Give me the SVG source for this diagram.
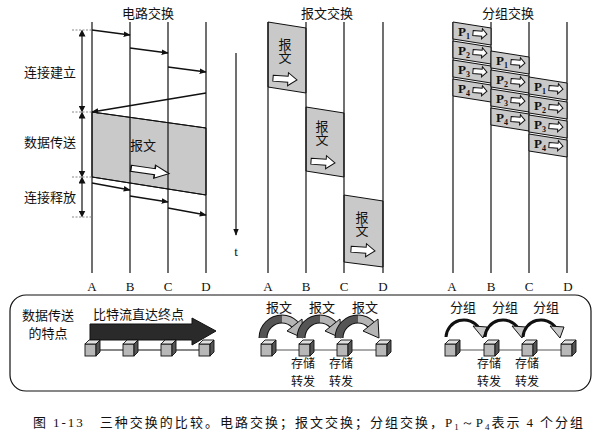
<svg xmlns="http://www.w3.org/2000/svg" width="614" height="435" viewBox="0 0 614 435">
<style>
.t{font-family:"Noto Sans CJK SC","Noto Sans",sans-serif;font-size:13px;fill:#111}
.s{font-size:12px}
.vt{font-family:"Noto Sans CJK SC","Noto Sans",sans-serif;font-size:13px;fill:#111;writing-mode:vertical-rl}
.l{font-family:"Liberation Serif",serif;font-size:13px;fill:#111}
.p{font-family:"Liberation Serif",serif;font-size:13px;font-weight:bold;fill:#111}
.ps{font-size:8px}
.v{stroke:#111;stroke-width:1.2;fill:none}
.a{stroke:#111;stroke-width:1.3;fill:none;marker-end:url(#ah)}
.g{fill:#c9c9c9;stroke:#111;stroke-width:1}
.w{fill:#fff;stroke:#111;stroke-width:1}
.d{stroke:#888;stroke-width:1;stroke-dasharray:2 1.5;fill:none}
.ln{stroke:#555;stroke-width:1;fill:none}
</style>
<defs>
<marker id="ah" viewBox="0 0 10 10" refX="9" refY="5" markerWidth="7" markerHeight="7" orient="auto" markerUnits="userSpaceOnUse">
<path d="M0,1 L10,5 L0,9 Z" fill="#111"/>
</marker>
<marker id="ab" viewBox="0 0 10 10" refX="5" refY="5" markerWidth="7" markerHeight="7" orient="auto-start-reverse" markerUnits="userSpaceOnUse">
<path d="M0,0 L10,5 L0,10 Z" fill="#111"/>
</marker>
<g id="cube">
<rect x="-7" y="-5" width="11" height="12" fill="#b8b8b8" stroke="#111" stroke-width="0.9"/>
<path d="M-7,-5 L-3,-9 L8,-9 L4,-5 Z" fill="#e0e0e0" stroke="#111" stroke-width="0.9"/>
<path d="M4,-5 L8,-9 L8,3 L4,7 Z" fill="#555" stroke="#111" stroke-width="0.9"/>
</g>
<path id="sarr" d="M0,-2.5 H9 V-5 L14,0 L9,5 V2.5 H0 Z" class="w"/>
<path id="marr" d="M-12,-3 H3 V-6.5 L12,0 L3,6.5 V3 H-12 Z" class="w"/>
<g id="harc">
<path d="M-3,338 A19 19 0 0 1 16,319" stroke="#111" stroke-width="9" fill="none"/>
<path d="M16,319 A19 19 0 0 1 29,324.5" stroke="#111" stroke-width="9" fill="none"/>
<path d="M-3,338 A19 19 0 0 1 16,319" stroke="#555" stroke-width="7" fill="none"/>
<path d="M16,319 A19 19 0 0 1 29,324.5" stroke="#b5b5b5" stroke-width="7" fill="none"/>
<path d="M36,319 L37,338 L21,331 Z" fill="#b5b5b5" stroke="#111" stroke-width="1"/>
</g>
<g id="parc">
<path d="M-6,337 A18 18 0 0 1 27,328" stroke="#111" stroke-width="3" fill="none"/>
<path d="M21,326 L35,327 L31,338 Z" fill="#c8c8c8" stroke="#111" stroke-width="1"/>
</g>
</defs>

<!-- titles -->
<text class="t" x="148" y="18" text-anchor="middle">电路交换</text>
<text class="t" x="327" y="18" text-anchor="middle">报文交换</text>
<text class="t" x="508" y="18" text-anchor="middle">分组交换</text>

<!-- circuit switching -->
<g id="circuit">
<polygon class="g" points="92,112 206,128 206,195 92,177" stroke="none"/>
<line class="v" x1="92" y1="112" x2="206" y2="128"/>
<line class="v" x1="92" y1="177" x2="206" y2="195"/>
<line class="v" x1="92" y1="22" x2="92" y2="273"/>
<line class="v" x1="130" y1="22" x2="130" y2="273"/>
<line class="v" x1="168" y1="22" x2="168" y2="273"/>
<line class="v" x1="206" y1="22" x2="206" y2="273"/>
<text class="t" x="130" y="150">报文</text>
<use href="#marr" transform="translate(150,171) rotate(8) scale(1.6,1)"/>
</g>
<g id="connectors">
<line class="a" x1="92" y1="30" x2="130" y2="35"/>
<line class="a" x1="130" y1="48" x2="168" y2="53"/>
<line class="a" x1="168" y1="67" x2="206" y2="72"/>
<line class="a" x1="206" y1="93" x2="92" y2="112"/>
<line class="a" x1="92" y1="183" x2="130" y2="190"/>
<line class="a" x1="130" y1="196" x2="168" y2="202"/>
<line class="a" x1="168" y1="208" x2="206" y2="215"/>
<line class="d" x1="72" y1="30" x2="92" y2="30"/>
<line class="d" x1="72" y1="112" x2="92" y2="112"/>
<line class="d" x1="72" y1="177" x2="92" y2="177"/>
<line class="d" x1="72" y1="217" x2="92" y2="217"/>
<line stroke="#111" stroke-width="1.2" x1="82" y1="33" x2="82" y2="109" marker-start="url(#ab)" marker-end="url(#ab)"/>
<line stroke="#111" stroke-width="1.2" x1="82" y1="115" x2="82" y2="174" marker-start="url(#ab)" marker-end="url(#ab)"/>
<line stroke="#111" stroke-width="1.2" x1="82" y1="180" x2="82" y2="214" marker-start="url(#ab)" marker-end="url(#ab)"/>
<line stroke="#111" stroke-width="1.2" x1="236" y1="53" x2="236" y2="235" marker-end="url(#ah)"/>
</g>
<text class="t" x="50" y="77" text-anchor="middle">连接建立</text>
<text class="t" x="50" y="147" text-anchor="middle">数据传送</text>
<text class="t" x="50" y="202" text-anchor="middle">连接释放</text>
<text class="l" x="236" y="256" text-anchor="middle">t</text>

<!-- message switching -->
<g id="message">
<polygon class="g" points="268,22 306,28 306,93 268,87"/>
<polygon class="g" points="306,107 344,113 344,177 306,171"/>
<polygon class="g" points="344,195 383,201 383,267 344,262"/>
<line class="v" x1="268" y1="22" x2="268" y2="273"/>
<line class="v" x1="306" y1="22" x2="306" y2="273"/>
<line class="v" x1="344" y1="22" x2="344" y2="273"/>
<line class="v" x1="383" y1="22" x2="383" y2="273"/>
<text class="vt" x="285" y="38">报文</text>
<use href="#marr" transform="translate(285,79) rotate(4)"/>
<text class="vt" x="322" y="120">报文</text>
<use href="#marr" transform="translate(323,162) rotate(4)"/>
<text class="vt" x="362" y="211">报文</text>
<use href="#marr" transform="translate(363,250) rotate(4)"/>
</g>

<!-- packet switching -->
<g id="packet">
<line class="v" x1="453" y1="22" x2="453" y2="273"/>
<line class="v" x1="491" y1="22" x2="491" y2="273"/>
<line class="v" x1="529" y1="22" x2="529" y2="273"/>
<line class="v" x1="567" y1="22" x2="567" y2="273"/>
<g transform="translate(453,22)"><polygon class="g" points="0,0 38,6 38,23 0,17"/><text class="p" x="5" y="14">P<tspan class="ps" dy="3">1</tspan></text><use href="#sarr" transform="translate(20,11) rotate(5)"/></g>
<g transform="translate(453,41)"><polygon class="g" points="0,0 38,6 38,23 0,17"/><text class="p" x="5" y="14">P<tspan class="ps" dy="3">2</tspan></text><use href="#sarr" transform="translate(20,11) rotate(5)"/></g>
<g transform="translate(453,60)"><polygon class="g" points="0,0 38,6 38,23 0,17"/><text class="p" x="5" y="14">P<tspan class="ps" dy="3">3</tspan></text><use href="#sarr" transform="translate(20,11) rotate(5)"/></g>
<g transform="translate(453,79)"><polygon class="g" points="0,0 38,6 38,23 0,17"/><text class="p" x="5" y="14">P<tspan class="ps" dy="3">4</tspan></text><use href="#sarr" transform="translate(20,11) rotate(5)"/></g>
<g transform="translate(491,51)"><polygon class="g" points="0,0 38,6 38,23 0,17"/><text class="p" x="5" y="14">P<tspan class="ps" dy="3">1</tspan></text><use href="#sarr" transform="translate(20,11) rotate(5)"/></g>
<g transform="translate(491,70)"><polygon class="g" points="0,0 38,6 38,23 0,17"/><text class="p" x="5" y="14">P<tspan class="ps" dy="3">2</tspan></text><use href="#sarr" transform="translate(20,11) rotate(5)"/></g>
<g transform="translate(491,89)"><polygon class="g" points="0,0 38,6 38,23 0,17"/><text class="p" x="5" y="14">P<tspan class="ps" dy="3">3</tspan></text><use href="#sarr" transform="translate(20,11) rotate(5)"/></g>
<g transform="translate(491,108)"><polygon class="g" points="0,0 38,6 38,23 0,17"/><text class="p" x="5" y="14">P<tspan class="ps" dy="3">4</tspan></text><use href="#sarr" transform="translate(20,11) rotate(5)"/></g>
<g transform="translate(529,77)"><polygon class="g" points="0,0 38,6 38,23 0,17"/><text class="p" x="5" y="14">P<tspan class="ps" dy="3">1</tspan></text><use href="#sarr" transform="translate(20,11) rotate(5)"/></g>
<g transform="translate(529,96)"><polygon class="g" points="0,0 38,6 38,23 0,17"/><text class="p" x="5" y="14">P<tspan class="ps" dy="3">2</tspan></text><use href="#sarr" transform="translate(20,11) rotate(5)"/></g>
<g transform="translate(529,115)"><polygon class="g" points="0,0 38,6 38,23 0,17"/><text class="p" x="5" y="14">P<tspan class="ps" dy="3">3</tspan></text><use href="#sarr" transform="translate(20,11) rotate(5)"/></g>
<g transform="translate(529,134)"><polygon class="g" points="0,0 38,6 38,23 0,17"/><text class="p" x="5" y="14">P<tspan class="ps" dy="3">4</tspan></text><use href="#sarr" transform="translate(20,11) rotate(5)"/></g>
</g>

<!-- node letters -->
<g id="letters">
<text class="l" x="92" y="291" text-anchor="middle">A</text>
<text class="l" x="130" y="291" text-anchor="middle">B</text>
<text class="l" x="168" y="291" text-anchor="middle">C</text>
<text class="l" x="206" y="291" text-anchor="middle">D</text>
<text class="l" x="268" y="291" text-anchor="middle">A</text>
<text class="l" x="306" y="291" text-anchor="middle">B</text>
<text class="l" x="344" y="291" text-anchor="middle">C</text>
<text class="l" x="383" y="291" text-anchor="middle">D</text>
<text class="l" x="452" y="291" text-anchor="middle">A</text>
<text class="l" x="491" y="291" text-anchor="middle">B</text>
<text class="l" x="529" y="291" text-anchor="middle">C</text>
<text class="l" x="568" y="291" text-anchor="middle">D</text>
</g>

<!-- bottom panel -->
<g id="panel">
<rect x="10" y="295" width="581" height="96" rx="16" ry="16" fill="none" stroke="#111" stroke-width="1.2"/>
<text class="t" x="48" y="320" text-anchor="middle">数据传送</text>
<text class="t" x="48" y="338" text-anchor="middle">的特点</text>
<text class="t" x="93" y="319">比特流直达终点</text>
<path d="M90,324 H192 V318 L216,331 L192,345 V340 H90 Z" fill="#2a2a2a" stroke="#111" stroke-width="1"/>
<line stroke="#111" stroke-width="1" x1="92" y1="350" x2="206" y2="350"/>
<use href="#cube" x="92" y="349"/>
<use href="#cube" x="130" y="349"/>
<use href="#cube" x="168" y="349"/>
<use href="#cube" x="206" y="349"/>

<text class="t" x="279" y="312" text-anchor="middle">报文</text>
<text class="t" x="322" y="312" text-anchor="middle">报文</text>
<text class="t" x="365" y="312" text-anchor="middle">报文</text>
<use href="#harc" transform="translate(266,0)"/>
<use href="#harc" transform="translate(304,0)"/>
<use href="#harc" transform="translate(342,0)"/>
<line class="ln" x1="268" y1="350" x2="383" y2="350"/>
<use href="#cube" x="268" y="349"/>
<use href="#cube" x="306" y="349"/>
<use href="#cube" x="344" y="349"/>
<use href="#cube" x="383" y="349"/>
<text class="t s" x="303" y="368" text-anchor="middle">存储</text>
<text class="t s" x="303" y="386" text-anchor="middle">转发</text>
<text class="t s" x="341" y="368" text-anchor="middle">存储</text>
<text class="t s" x="341" y="386" text-anchor="middle">转发</text>

<text class="t" x="463" y="312" text-anchor="middle">分组</text>
<text class="t" x="505" y="312" text-anchor="middle">分组</text>
<text class="t" x="546" y="312" text-anchor="middle">分组</text>
<use href="#parc" transform="translate(452,0)"/>
<use href="#parc" transform="translate(491,0)"/>
<use href="#parc" transform="translate(529,0)"/>
<line class="ln" x1="452" y1="350" x2="568" y2="350"/>
<use href="#cube" x="452" y="349"/>
<use href="#cube" x="491" y="349"/>
<use href="#cube" x="529" y="349"/>
<use href="#cube" x="568" y="349"/>
<text class="t s" x="489" y="368" text-anchor="middle">存储</text>
<text class="t s" x="489" y="386" text-anchor="middle">转发</text>
<text class="t s" x="527" y="368" text-anchor="middle">存储</text>
<text class="t s" x="527" y="386" text-anchor="middle">转发</text>
</g>

<!-- caption -->
<text class="t" x="33" y="427" font-size="14" textLength="550" lengthAdjust="spacing">图 <tspan font-family="Liberation Serif">1-13</tspan>　三种交换的比较。电路交换；报文交换；分组交换，<tspan font-family="Liberation Serif">P<tspan font-size="9" dy="3">1</tspan><tspan dy="-3">～P</tspan><tspan font-size="9" dy="3">4</tspan></tspan><tspan dy="-3">表示 </tspan><tspan font-family="Liberation Serif">4</tspan> 个分组</text>
</svg>
